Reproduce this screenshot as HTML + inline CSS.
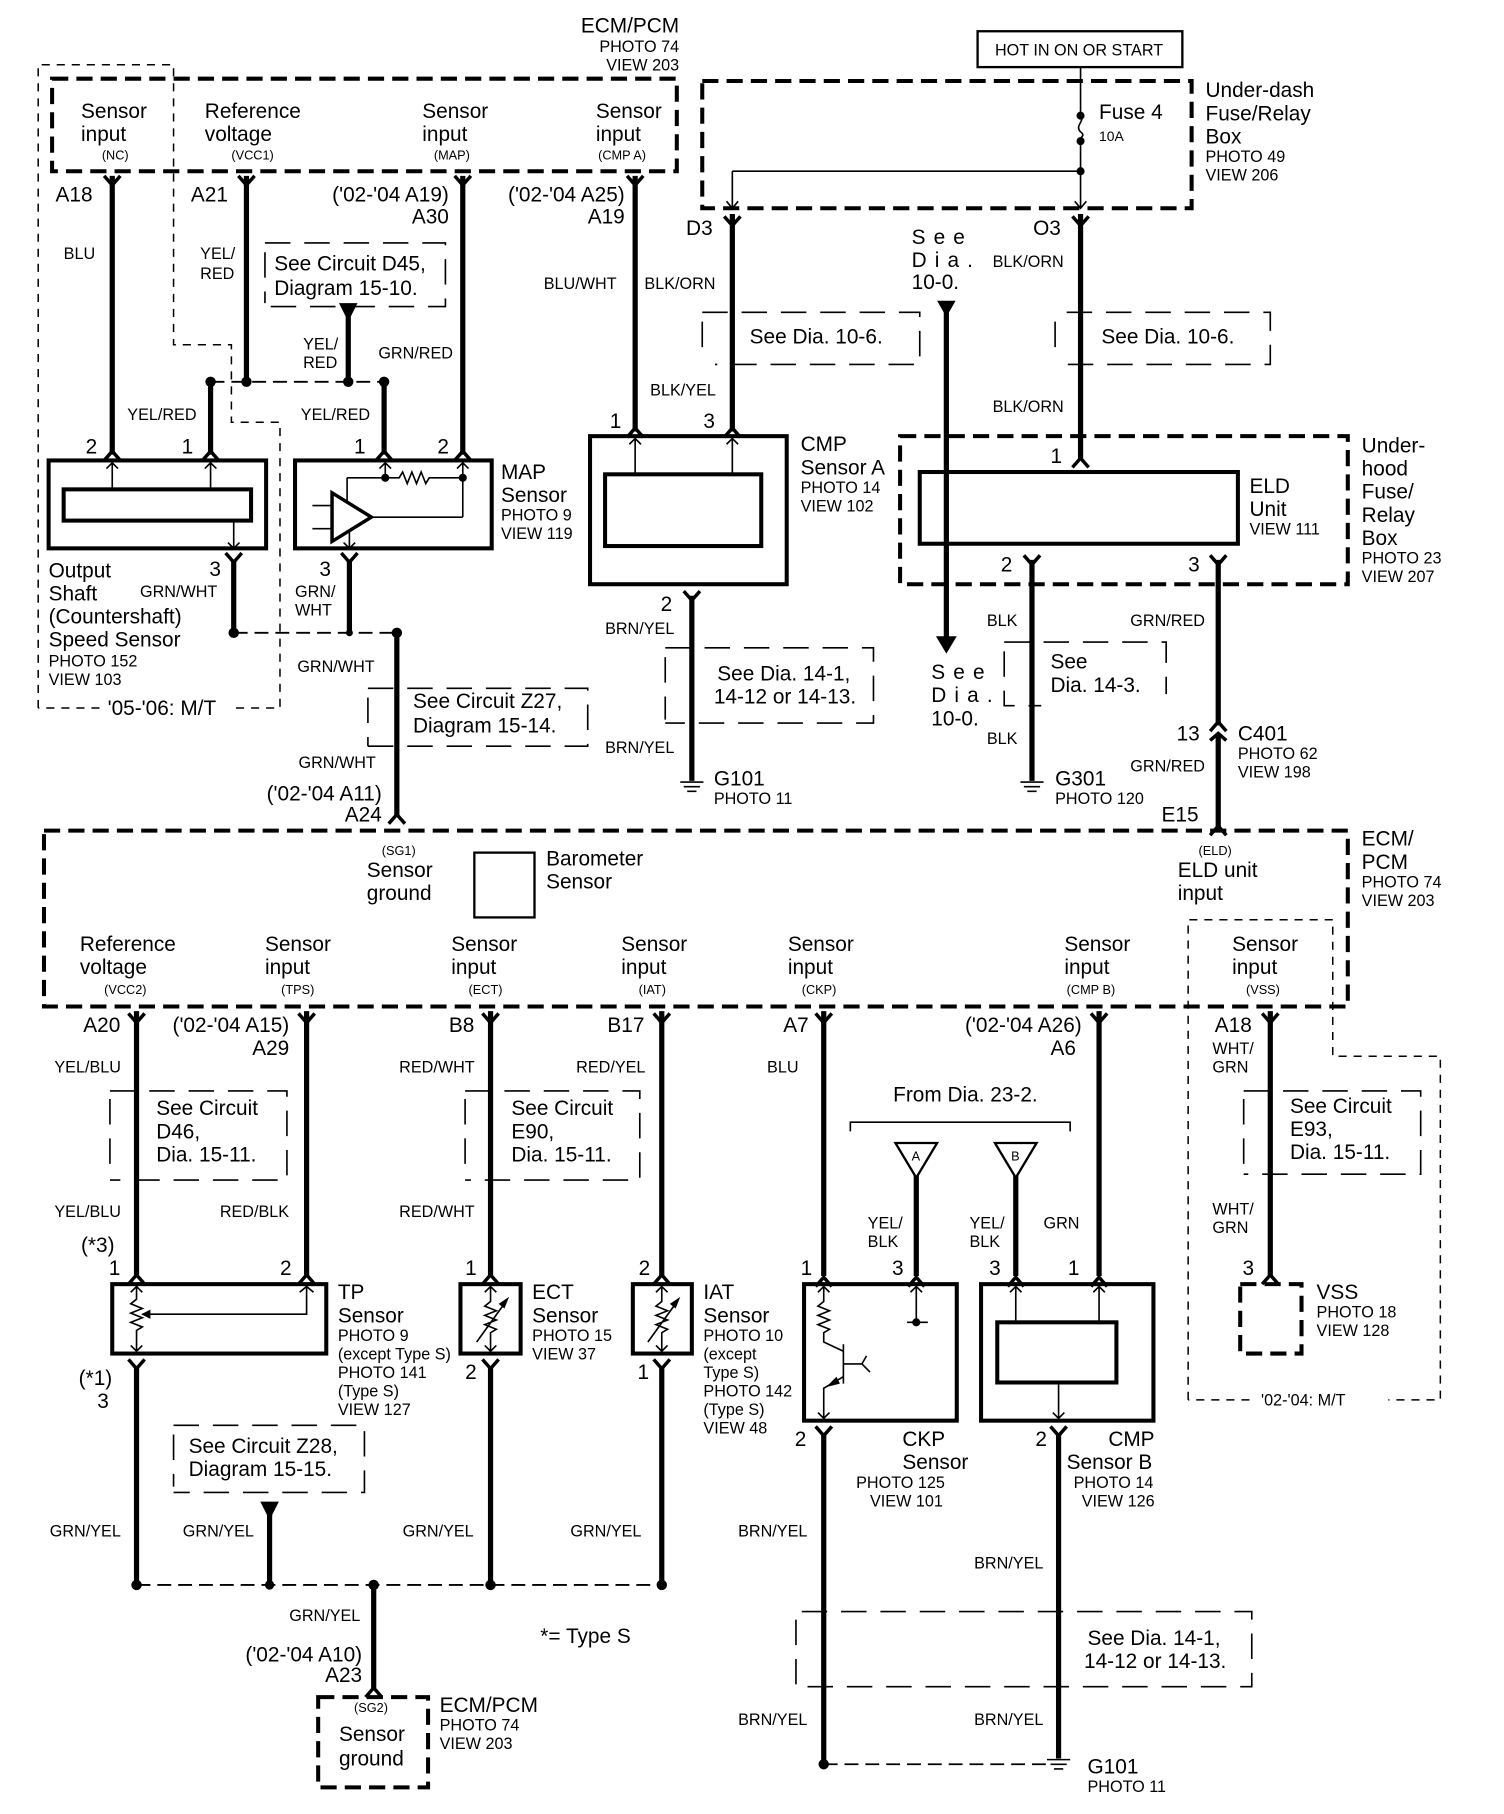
<!DOCTYPE html>
<html><head><meta charset="utf-8"><style>
html,body{margin:0;padding:0;background:#fff}
svg{display:block}
text{font-family:"Liberation Sans",Arial,sans-serif;fill:#000}
.L{font-size:18px}.M{font-size:14px}.S{font-size:12px}.X{font-size:11px}
.w{stroke:#000;stroke-width:4.5;fill:none}
.t{stroke:#000;stroke-width:1.4;fill:none}
.c{stroke:#000;stroke-width:3;fill:none}
.db{stroke:#000;stroke-width:3.5;fill:none;stroke-dasharray:14 7}
.dt{stroke:#000;stroke-width:1.3;fill:none;stroke-dasharray:7 6}
.br{stroke:#000;stroke-width:1.4;fill:none;stroke-dasharray:22 12}
.dd{stroke:#000;stroke-width:1.6;fill:none;stroke-dasharray:12 6}
.bx{stroke:#000;stroke-width:3.5;fill:none}
</style></head><body>
<svg width="1504" height="1814" viewBox="0 0 1300 1568" xmlns="http://www.w3.org/2000/svg">
<rect width="1300" height="1568" fill="#fff"/>

<!-- TOP ECM -->
<text class="L" x="587" y="28" text-anchor="end">ECM/PCM</text>
<text class="M" x="587" y="45" text-anchor="end">PHOTO 74</text>
<text class="M" x="587" y="61" text-anchor="end">VIEW 203</text>
<rect class="db" x="45" y="68" width="540" height="80"/>
<text class="L" x="70" y="102">Sensor</text><text class="L" x="70" y="122">input</text><text class="X" x="88" y="138">(NC)</text>
<text class="L" x="177" y="102">Reference</text><text class="L" x="177" y="122">voltage</text><text class="X" x="200" y="138">(VCC1)</text>
<text class="L" x="365" y="102">Sensor</text><text class="L" x="365" y="122">input</text><text class="X" x="375" y="138">(MAP)</text>
<text class="L" x="515" y="102">Sensor</text><text class="L" x="515" y="122">input</text><text class="X" x="517" y="138">(CMP A)</text>

<!-- M/T thin dashed -->
<path class="dt" d="M33 612 V56 H150 V298 H200 V365 H242 V612 H200 M86 612 H33"/>
<text class="L" x="93" y="618">'05-'06: M/T</text>

<!-- wires top-left -->
<path class="w" d="M97 152 V393 M213 152 V330 M400 152 V393 M549 152 V373 M182 330 V393 M332 330 V393 M301 270 V330"/>
<path class="c" d="M90 152 L97 160 L104 152 M206 152 L213 160 L220 152 M393 152 L400 160 L407 152 M542 152 L549 160 L556 152"/>
<path class="c" d="M90 398 L97 390 L104 398 M175 398 L182 390 L189 398 M325 398 L332 390 L339 398 M393 398 L400 390 L407 398 M542 378 L549 370 L556 378 M626 378 L633 370 L640 378"/>
<path d="M293 262 H309 L301 278 Z"/>
<path class="dd" d="M182 330 H332"/>
<circle cx="182" cy="330" r="4.5"/><circle cx="213" cy="330" r="4.5"/><circle cx="301" cy="330" r="4.5"/><circle cx="332" cy="330" r="4.5"/>
<text class="L" x="48" y="174">A18</text><text class="M" x="55" y="224">BLU</text>
<text class="L" x="165" y="174">A21</text><text class="M" x="173" y="224">YEL/</text><text class="M" x="173" y="241">RED</text>
<text class="L" x="388" y="174" text-anchor="end">('02-'04 A19)</text><text class="L" x="388" y="193" text-anchor="end">A30</text>
<text class="L" x="540" y="174" text-anchor="end">('02-'04 A25)</text><text class="L" x="540" y="193" text-anchor="end">A19</text>
<text class="M" x="470" y="250">BLU/WHT</text>
<path class="br" d="M229 218 V262 M229 210 H385 V265 H229"/>
<text class="L" x="237" y="234">See Circuit D45,</text><text class="L" x="237" y="255">Diagram 15-10.</text>
<text class="M" x="262" y="302">YEL/</text><text class="M" x="262" y="318">RED</text>
<text class="M" x="327" y="310">GRN/RED</text>
<text class="M" x="110" y="363">YEL/RED</text><text class="M" x="260" y="363">YEL/RED</text>
<text class="L" x="74" y="392">2</text><text class="L" x="157" y="392">1</text><text class="L" x="306" y="392">1</text><text class="L" x="378" y="392">2</text>

<!-- Output shaft sensor -->
<rect class="bx" x="42" y="398" width="188" height="76"/>
<rect class="bx" x="55" y="423" width="162" height="27"/>
<path class="t" d="M97 423 V400 M92 405 L97 400 L102 405 M182 423 V400 M177 405 L182 400 L187 405 M202 450 V474 M197 469 L202 474 L207 469"/>
<path class="w" d="M202 484 V547 M302 484 V547 M343 547 V705"/>
<path class="c" d="M195 478 L202 486 L209 478 M295 478 L302 486 L309 478"/>
<path class="dd" d="M202 547 H343"/>
<circle cx="202" cy="547" r="4.5"/><circle cx="302" cy="547" r="3"/><circle cx="343" cy="547" r="4.5"/>
<path class="c" d="M336 712 L343 704 L350 712"/>
<text class="L" x="181" y="498">3</text><text class="L" x="276" y="498">3</text>
<text class="M" x="121" y="516">GRN/WHT</text><text class="M" x="255" y="516">GRN/</text><text class="M" x="255" y="532">WHT</text>
<text class="L" x="42" y="499">Output</text><text class="L" x="42" y="519">Shaft</text><text class="L" x="42" y="539">(Countershaft)</text><text class="L" x="42" y="559">Speed Sensor</text>
<text class="M" x="42" y="576">PHOTO 152</text><text class="M" x="42" y="592">VIEW 103</text>

<!-- MAP sensor -->
<rect class="bx" x="255" y="398" width="170" height="76"/>
<path class="t" d="M333 400 V413 M328 405 L333 400 L338 405 M400 400 V447 M395 405 L400 400 L405 405 M300 413 H345 L348 408 L352 418 L356 408 L360 418 L364 408 L368 418 L371 413 H400 M300 413 V434 M320 447 H400 M270 437 H287 M270 457 H287 M302 460 V474 M297 469 L302 474 L307 469"/>
<path d="M287 426 L287 468 L321 447 Z" fill="none" stroke="#000" stroke-width="3"/>
<circle cx="333" cy="413" r="3.5"/><circle cx="400" cy="413" r="3.5"/>
<text class="L" x="433" y="414">MAP</text><text class="L" x="433" y="434">Sensor</text><text class="M" x="433" y="450">PHOTO 9</text><text class="M" x="433" y="466">VIEW 119</text>

<text class="M" x="257" y="581">GRN/WHT</text>
<path class="br" d="M318 603 V645 M318 595 H508 V645 H318"/>
<text class="L" x="357" y="612">See Circuit Z27,</text><text class="L" x="357" y="633">Diagram 15-14.</text>
<text class="M" x="258" y="664">GRN/WHT</text>
<text class="L" x="330" y="692" text-anchor="end">('02-'04 A11)</text><text class="L" x="330" y="710" text-anchor="end">A24</text>

<!-- CMP sensor A -->
<rect class="bx" x="510" y="377" width="170" height="128"/>
<rect class="bx" x="523" y="410" width="135" height="62"/>
<path class="t" d="M549 410 V379 M544 384 L549 379 L554 384 M633 410 V379 M628 384 L633 379 L638 384"/>
<text class="L" x="527" y="370">1</text><text class="L" x="608" y="370">3</text>
<text class="L" x="692" y="390">CMP</text><text class="L" x="692" y="410">Sensor A</text><text class="M" x="692" y="426">PHOTO 14</text><text class="M" x="692" y="442">VIEW 102</text>
<path class="w" d="M633 185 V373 M598 515 V675"/>
<path class="c" d="M626 187 L633 195 L640 187 M591 511 L598 519 L605 511"/>
<text class="L" x="593" y="203">D3</text><text class="M" x="557" y="250">BLK/ORN</text>
<path class="br" d="M607 278 V300 M607 270 H795 V315 H618"/>
<text class="L" x="648" y="297">See Dia. 10-6.</text>
<text class="M" x="562" y="342">BLK/YEL</text>
<text class="L" x="571" y="528">2</text><text class="M" x="523" y="548">BRN/YEL</text>
<path class="br" d="M575 568 V622 M575 560 H755 V625 H575"/>
<text class="L" x="620" y="588">See Dia. 14-1,</text><text class="L" x="617" y="608">14-12 or 14-13.</text>
<text class="M" x="523" y="651">BRN/YEL</text>
<path class="t" d="M588 676 H608 M591 680 H605 M594 684 H602" stroke-width="2"/>
<text class="L" x="617" y="679">G101</text><text class="M" x="617" y="695">PHOTO 11</text>

<!-- Under-dash fuse box -->
<rect x="845" y="27" width="177" height="31" fill="none" stroke="#000" stroke-width="2"/>
<text class="M" x="860" y="48">HOT IN ON OR START</text>
<path class="db" d="M607 70 H1030 V180 H607 Z"/>
<path class="t" d="M934 58 V98 M934 122 V180 M933 98 C940 104,928 108,934 114 C940 118,930 120,934 122 M633 148 H934 M633 148 V180 M628 174 L633 180 L638 174 M929 174 L934 180 L939 174" stroke-width="1.8"/>
<circle cx="934" cy="100" r="3.5"/><circle cx="934" cy="122" r="3.5"/><circle cx="934" cy="148" r="3.5"/>
<text class="L" x="950" y="103">Fuse 4</text><text class="S" x="950" y="122">10A</text>
<text class="L" x="1042" y="84">Under-dash</text><text class="L" x="1042" y="104">Fuse/Relay</text><text class="L" x="1042" y="124">Box</text><text class="M" x="1042" y="140">PHOTO 49</text><text class="M" x="1042" y="156">VIEW 206</text>

<path class="w" d="M934 185 V398 M818 268 V553 M892 484 V675 M1053 484 V627 M1053 635 V715"/>
<path class="c" d="M927 187 L934 195 L941 187 M927 404 L934 396 L941 404 M885 480 L892 488 L899 480 M1046 480 L1053 488 L1060 480 M1046 632 L1053 624 L1060 632 M1046 640 L1053 634 L1060 640 M1046 722 L1053 714 L1060 722"/>
<path d="M810 260 H826 L818 274 Z M809 550 H827 L818 565 Z"/>
<text class="L" x="893" y="203">O3</text><text class="M" x="858" y="231">BLK/ORN</text>
<text class="L" x="788" y="211" letter-spacing="7">See</text><text class="L" x="788" y="231" letter-spacing="7">Dia.</text><text class="L" x="788" y="250">10-0.</text>
<path class="br" d="M912 278 V300 M922 270 H1098 V315 H922"/>
<text class="L" x="952" y="297">See Dia. 10-6.</text>
<text class="M" x="858" y="356">BLK/ORN</text>
<path class="db" d="M778 377 H1165 V505 H778 Z"/>
<rect class="bx" x="795" y="408" width="275" height="62"/>
<path class="t" d="M818 408 V470"/>
<text class="L" x="908" y="400">1</text>
<text class="L" x="1080" y="426">ELD</text><text class="L" x="1080" y="446">Unit</text><text class="M" x="1080" y="462">VIEW 111</text>
<text class="L" x="1177" y="391">Under-</text><text class="L" x="1177" y="411">hood</text><text class="L" x="1177" y="431">Fuse/</text><text class="L" x="1177" y="451">Relay</text><text class="L" x="1177" y="471">Box</text><text class="M" x="1177" y="487">PHOTO 23</text><text class="M" x="1177" y="503">VIEW 207</text>
<text class="L" x="865" y="494">2</text><text class="L" x="1027" y="494">3</text>
<text class="M" x="853" y="541">BLK</text><text class="M" x="977" y="541">GRN/RED</text>
<text class="L" x="805" y="587" letter-spacing="7">See</text><text class="L" x="805" y="607" letter-spacing="7">Dia.</text><text class="L" x="805" y="627">10-0.</text>
<path class="br" d="M868 563 V610 H900 M868 555 H1008 V600"/>
<text class="L" x="908" y="578">See</text><text class="L" x="908" y="598">Dia.  14-3.</text>
<text class="M" x="853" y="643">BLK</text>
<path class="t" d="M882 676 H902 M885 680 H899 M888 684 H896" stroke-width="2"/>
<text class="L" x="912" y="679">G301</text><text class="M" x="912" y="695">PHOTO 120</text>
<text class="L" x="1017" y="640">13</text><text class="L" x="1070" y="640">C401</text><text class="M" x="1070" y="656">PHOTO 62</text><text class="M" x="1070" y="672">VIEW 198</text>
<text class="M" x="977" y="667">GRN/RED</text>
<text class="L" x="1004" y="710">E15</text>

<!-- MIDDLE ECM -->
<rect class="db" x="38" y="718" width="1127" height="152"/>
<text class="L" x="1177" y="731">ECM/</text><text class="L" x="1177" y="751">PCM</text><text class="M" x="1177" y="767">PHOTO 74</text><text class="M" x="1177" y="783">VIEW 203</text>
<text class="X" x="330" y="739">(SG1)</text><text class="L" x="317" y="758">Sensor</text><text class="L" x="317" y="778">ground</text>
<rect x="410" y="737" width="52" height="56" fill="none" stroke="#000" stroke-width="2"/>
<text class="L" x="472" y="748">Barometer</text><text class="L" x="472" y="768">Sensor</text>
<text class="X" x="1036" y="739">(ELD)</text><text class="L" x="1018" y="758">ELD unit</text><text class="L" x="1018" y="778">input</text>
<text class="L" x="69" y="822">Reference</text><text class="L" x="69" y="842">voltage</text><text class="X" x="90" y="859">(VCC2)</text>
<text class="L" x="229" y="822">Sensor</text><text class="L" x="229" y="842">input</text><text class="X" x="243" y="859">(TPS)</text>
<text class="L" x="390" y="822">Sensor</text><text class="L" x="390" y="842">input</text><text class="X" x="405" y="859">(ECT)</text>
<text class="L" x="537" y="822">Sensor</text><text class="L" x="537" y="842">input</text><text class="X" x="552" y="859">(IAT)</text>
<text class="L" x="681" y="822">Sensor</text><text class="L" x="681" y="842">input</text><text class="X" x="693" y="859">(CKP)</text>
<text class="L" x="920" y="822">Sensor</text><text class="L" x="920" y="842">input</text><text class="X" x="922" y="859">(CMP B)</text>
<text class="L" x="1065" y="822">Sensor</text><text class="L" x="1065" y="842">input</text><text class="X" x="1077" y="859">(VSS)</text>
<path class="dt" d="M1027 1210 V795 H1152 V913 H1245 V1210 H1200 M1080 1210 H1027"/>
<text class="M" x="1090" y="1215">'02-'04: M/T</text>

<!-- lower wires -->
<path class="w" d="M118 874 V1103 M265 874 V1103 M424 874 V1103 M572 874 V1103 M712 874 V1103 M950 874 V1103 M1098 874 V1103 M118 1182 V1370 M424 1182 V1370 M572 1182 V1370 M233 1306 V1370 M323 1370 V1459 M712 1240 V1525 M915 1240 V1520 M792 1015 V1103 M878 1015 V1103"/>
<path class="c" d="M111 876 L118 884 L125 876 M258 876 L265 884 L272 876 M417 876 L424 884 L431 876 M565 876 L572 884 L579 876 M705 876 L712 884 L719 876 M943 876 L950 884 L957 876 M1091 876 L1098 884 L1105 876"/>
<path class="c" d="M111 1110 L118 1102 L125 1110 M258 1110 L265 1102 L272 1110 M417 1110 L424 1102 L431 1110 M565 1110 L572 1102 L579 1110 M705 1112 L712 1104 L719 1112 M785 1112 L792 1104 L799 1112 M871 1112 L878 1104 L885 1112 M943 1112 L950 1104 L957 1112 M1091 1110 L1098 1102 L1105 1110 M316 1467 L323 1459 L330 1467"/>
<path class="c" d="M111 1175 L118 1183 L125 1175 M417 1175 L424 1183 L431 1175 M565 1175 L572 1183 L579 1175 M705 1233 L712 1241 L719 1233 M908 1233 L915 1241 L922 1233"/>
<text class="L" x="72" y="892">A20</text><text class="M" x="47" y="927">YEL/BLU</text>
<text class="L" x="250" y="892" text-anchor="end">('02-'04 A15)</text><text class="L" x="250" y="912" text-anchor="end">A29</text>
<text class="L" x="388" y="892">B8</text><text class="M" x="345" y="927">RED/WHT</text>
<text class="L" x="525" y="892">B17</text><text class="M" x="498" y="927">RED/YEL</text>
<text class="L" x="677" y="892">A7</text><text class="M" x="663" y="927">BLU</text>
<text class="L" x="935" y="892" text-anchor="end">('02-'04 A26)</text><text class="L" x="930" y="912" text-anchor="end">A6</text>
<text class="L" x="1050" y="892">A18</text><text class="M" x="1048" y="911">WHT/</text><text class="M" x="1048" y="927">GRN</text>

<path class="br" d="M95 950 V1012 M95 943 H248 V1020 H95"/>
<text class="L" x="135" y="964">See Circuit</text><text class="L" x="135" y="984">D46,</text><text class="L" x="135" y="1004">Dia. 15-11.</text>
<path class="br" d="M402 950 V1012 M402 943 H553 V1020 H402"/>
<text class="L" x="442" y="964">See Circuit</text><text class="L" x="442" y="984">E90,</text><text class="L" x="442" y="1004">Dia. 15-11.</text>
<path class="br" d="M1075 950 V1008 M1075 943 H1228 V1015 H1075"/>
<text class="L" x="1115" y="962">See Circuit</text><text class="L" x="1115" y="982">E93,</text><text class="L" x="1115" y="1002">Dia. 15-11.</text>

<text class="M" x="47" y="1052">YEL/BLU</text><text class="M" x="190" y="1052">RED/BLK</text><text class="M" x="345" y="1052">RED/WHT</text>
<text class="L" x="70" y="1082">(*3)</text>
<text class="L" x="94" y="1102">1</text><text class="L" x="242" y="1102">2</text><text class="L" x="402" y="1102">1</text><text class="L" x="552" y="1102">2</text>
<text class="M" x="1048" y="1050">WHT/</text><text class="M" x="1048" y="1066">GRN</text><text class="L" x="1074" y="1102">3</text>

<!-- TP sensor -->
<rect class="bx" x="97" y="1110" width="185" height="60"/>
<path class="t" d="M118 1112 V1123 L113 1127 L123 1131 L113 1135 L123 1139 L113 1143 L123 1147 L118 1150 V1168 M113 1117 L118 1112 L123 1117 M113 1163 L118 1168 L123 1163 M265 1112 V1136 H123 M259 1117 L265 1112 L271 1117"/>
<path d="M122 1136 L130 1132 L130 1140 Z"/>
<text class="L" x="292" y="1123">TP</text><text class="L" x="292" y="1143">Sensor</text><text class="M" x="292" y="1159">PHOTO 9</text><text class="M" x="292" y="1175">(except Type S)</text><text class="M" x="292" y="1191">PHOTO 141</text><text class="M" x="292" y="1207">(Type S)</text><text class="M" x="292" y="1223">VIEW 127</text>
<text class="L" x="68" y="1197">(*1)</text><text class="L" x="84" y="1217">3</text>

<!-- ECT / IAT -->
<rect class="bx" x="398" y="1110" width="52" height="60"/>
<rect class="bx" x="547" y="1110" width="51" height="60"/>
<path class="t" d="M424 1112 V1125 L419 1129 L429 1133 L419 1137 L429 1141 L419 1145 L429 1149 L424 1152 V1168 M419 1117 L424 1112 L429 1117 M419 1163 L424 1168 L429 1163 M412 1160 L438 1124 M572 1112 V1125 L567 1129 L577 1133 L567 1137 L577 1141 L567 1145 L577 1149 L572 1152 V1168 M567 1117 L572 1112 L577 1117 M567 1163 L572 1168 L577 1163 M560 1160 L586 1124" stroke-width="1.8"/>
<path d="M440 1121 L431 1127 L436 1131 Z M588 1121 L579 1127 L584 1131 Z"/>
<text class="L" x="460" y="1123">ECT</text><text class="L" x="460" y="1143">Sensor</text><text class="M" x="460" y="1159">PHOTO 15</text><text class="M" x="460" y="1175">VIEW 37</text>
<text class="L" x="402" y="1192">2</text><text class="L" x="551" y="1192">1</text>
<text class="L" x="608" y="1123">IAT</text><text class="L" x="608" y="1143">Sensor</text><text class="M" x="608" y="1159">PHOTO 10</text><text class="M" x="608" y="1175">(except</text><text class="M" x="608" y="1191">Type S)</text><text class="M" x="608" y="1207">PHOTO 142</text><text class="M" x="608" y="1223">(Type S)</text><text class="M" x="608" y="1239">VIEW 48</text>

<path class="br" d="M150 1240 V1285 M150 1232 H315 V1290 H150"/>
<text class="L" x="163" y="1256">See Circuit Z28,</text><text class="L" x="163" y="1276">Diagram 15-15.</text>
<path d="M225 1298 H241 L233 1314 Z"/>
<text class="M" x="43" y="1328">GRN/YEL</text><text class="M" x="158" y="1328">GRN/YEL</text><text class="M" x="348" y="1328">GRN/YEL</text><text class="M" x="493" y="1328">GRN/YEL</text>
<path class="dd" d="M118 1370 H572"/>
<circle cx="118" cy="1370" r="4.5"/><circle cx="233" cy="1370" r="4"/><circle cx="323" cy="1370" r="4.5"/><circle cx="424" cy="1370" r="4.5"/><circle cx="572" cy="1370" r="4.5"/>
<text class="M" x="250" y="1401">GRN/YEL</text>
<text class="L" x="313" y="1436" text-anchor="end">('02-'04 A10)</text><text class="L" x="313" y="1454" text-anchor="end">A23</text>
<text class="L" x="467" y="1420">*=  Type S</text>
<rect class="db" x="275" y="1467" width="95" height="78"/>
<text class="X" x="306" y="1480">(SG2)</text><text class="L" x="293" y="1505">Sensor</text><text class="L" x="293" y="1526">ground</text>
<text class="L" x="380" y="1480">ECM/PCM</text><text class="M" x="380" y="1496">PHOTO 74</text><text class="M" x="380" y="1512">VIEW 203</text>

<!-- CKP / CMP B -->
<text class="L" x="772" y="952">From Dia. 23-2.</text>
<path class="t" d="M735 978 V970 H925 V978" stroke-width="2"/>
<path d="M774 988 H810 L792 1018 Z M860 988 H896 L878 1018 Z" fill="#fff" stroke="#000" stroke-width="2"/>
<text class="X" x="788" y="1003">A</text><text class="X" x="874" y="1003">B</text>
<text class="M" x="750" y="1062">YEL/</text><text class="M" x="750" y="1078">BLK</text><text class="M" x="838" y="1062">YEL/</text><text class="M" x="838" y="1078">BLK</text><text class="M" x="902" y="1062">GRN</text>
<text class="L" x="692" y="1102">1</text><text class="L" x="771" y="1102">3</text><text class="L" x="855" y="1102">3</text><text class="L" x="923" y="1102">1</text>
<rect class="bx" x="695" y="1110" width="132" height="118"/>
<path class="t" d="M712 1112 V1125 L707 1129 L717 1133 L707 1137 L717 1141 L707 1145 L717 1149 L712 1152 V1160 L729 1168 M729 1162 V1196 M729 1179 H745 L749 1172 M745 1179 L752 1186 M729 1190 L712 1200 V1226 M707 1117 L712 1112 L717 1117 M707 1221 L712 1226 L717 1221 M792 1112 V1143 M787 1117 L792 1112 L797 1117 M784 1143 H802" stroke-width="1.6"/>
<path d="M714 1199 L723 1190 L726 1196 Z"/><circle cx="792" cy="1143" r="3.5"/>
<rect class="bx" x="848" y="1110" width="149" height="118"/>
<rect class="bx" x="862" y="1143" width="103" height="52"/>
<path class="t" d="M878 1143 V1112 M873 1117 L878 1112 L883 1117 M950 1143 V1112 M945 1117 L950 1112 L955 1117 M915 1195 V1226 M910 1221 L915 1226 L920 1221"/>
<text class="L" x="687" y="1250">2</text><text class="L" x="895" y="1250">2</text>
<text class="L" x="780" y="1250">CKP</text><text class="L" x="780" y="1270">Sensor</text><text class="M" x="740" y="1286">PHOTO 125</text><text class="M" x="752" y="1302">VIEW 101</text>
<text class="L" x="958" y="1250">CMP</text><text class="L" x="922" y="1270">Sensor B</text><text class="M" x="928" y="1286">PHOTO 14</text><text class="M" x="935" y="1302">VIEW 126</text>
<text class="M" x="638" y="1328">BRN/YEL</text><text class="M" x="842" y="1356">BRN/YEL</text>
<path class="br" d="M688 1400 V1458 H1082 V1393 H688"/>
<text class="L" x="940" y="1422">See Dia. 14-1,</text><text class="L" x="937" y="1442">14-12 or 14-13.</text>
<text class="M" x="638" y="1491">BRN/YEL</text><text class="M" x="842" y="1491">BRN/YEL</text>
<path class="dd" d="M712 1525 H905"/>
<circle cx="712" cy="1525" r="4.5"/>
<path class="t" d="M905 1521 H925 M908 1525 H922 M911 1529 H919" stroke-width="2"/>
<text class="L" x="940" y="1533">G101</text><text class="M" x="940" y="1549">PHOTO 11</text>

<!-- VSS -->
<rect class="db" x="1072" y="1110" width="53" height="60"/>
<text class="L" x="1138" y="1123">VSS</text><text class="M" x="1138" y="1139">PHOTO 18</text><text class="M" x="1138" y="1155">VIEW 128</text>
</svg>
</body></html>
